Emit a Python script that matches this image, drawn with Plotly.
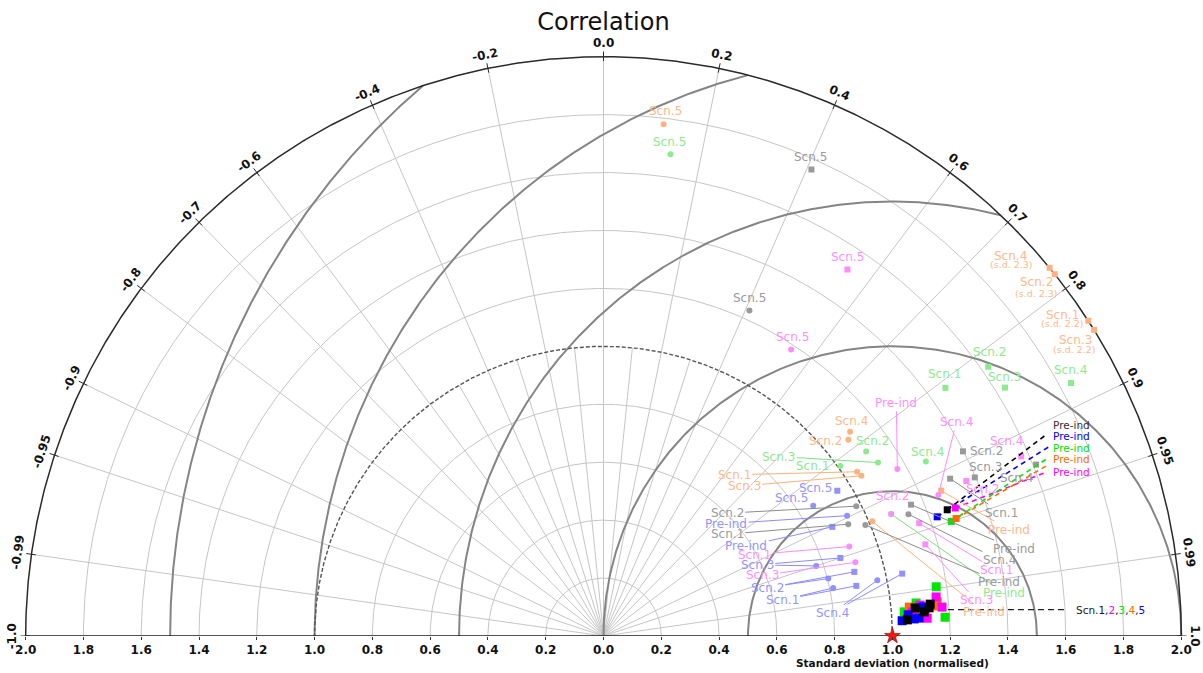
import numpy as np
import plotly.graph_objects as go

# ---------------------------------------------------------------------------
# Data: normalised standard deviation and correlation with the reference
# Order of every list follows SCEN; None = no value for that case.
# ---------------------------------------------------------------------------
SCEN = ["Pre-ind", "Scn.1", "Scn.2", "Scn.3", "Scn.4", "Scn.5"]

orange_circle_sd = [1.011, 1.045, 1.085, 1.050, 1.107, 1.779]
orange_circle_cor = [0.920, 0.840, 0.781, 0.850, 0.771, 0.117]
orange_square_sd = [1.272, 2.2, 2.3, 2.2, 2.3, None]
orange_square_cor = [0.919, 0.839, 0.781, 0.849, 0.772, None]

green_circle_sd = [1.081, 1.008, 1.110, 1.123, 1.268, 1.679]
green_circle_cor = [0.921, 0.813, 0.819, 0.846, 0.880, 0.138]
green_square_sd = [None, 1.461, 1.624, 1.633, 1.839, None]
green_square_cor = [None, 0.810, 0.820, 0.851, 0.880, None]

grey_circle_sd = [0.984, 0.931, 0.983, None, 1.136, 1.232]
grey_circle_cor = [0.921, 0.910, 0.890, None, 0.929, 0.410]
grey_square_sd = [1.157, 1.317, 1.398, 1.397, 1.610, 1.764]
grey_square_cor = [0.920, 0.911, 0.890, 0.920, 0.930, 0.408]

pink_circle_sd = [1.169, 0.905, 1.081, 0.908, 1.257, 1.183]
pink_circle_cor = [0.870, 0.940, 0.921, 0.960, 0.922, 0.549]
pink_square_sd = [None, 1.160, 1.365, 1.158, 1.573, 1.521]
pink_square_cor = [None, 0.942, 0.920, 0.962, 0.919, 0.555]

blue_circle_sd = [0.940, 0.812, 0.803, 0.775, 0.967, 0.854]
blue_circle_cor = [0.897, 0.979, 0.969, 0.950, 0.980, 0.850]
blue_square_sd = [0.877, 0.892, 0.896, 0.863, 1.056, 0.952]
blue_square_cor = [0.903, 0.981, 0.969, 0.950, 0.979, 0.850]

# ensemble runs: one colour per scenario, five members each
ENS_NAMES = ["Scn.1", "Scn.2", "Scn.3", "Scn.4", "Scn.5"]
ENS_COLORS = ["#000000", "#FF00FF", "#00E600", "#FF6A00", "#0000FF"]
scn1_sd = [1.136, 1.131, 1.053, 1.113, 1.083]
scn1_cor = [0.9953, 0.9963, 0.9986, 0.9972, 0.9960]
scn2_sd = [1.159, 1.176, 1.122, 1.072, 1.101]
scn2_cor = [0.9932, 0.9964, 0.9985, 0.9970, 0.9953]
scn3_sd = [1.164, 1.184, 1.088, 1.044, 1.103]
scn3_cor = [0.9893, 0.9985, 0.9945, 0.9968, 0.9967]
scn4_sd = [1.161, 1.063, 1.088, 1.146, 1.117]
scn4_cor = [0.9948, 0.9956, 0.9982, 0.9959, 0.9968]
scn5_sd = [1.077, 1.035, 1.111, 1.057, 1.094]
scn5_cor = [0.9985, 0.9987, 0.9959, 0.9976, 0.9984]

# pre-industrial control of each ensemble (same colour order as ENS_NAMES)
pre_sd = [1.267, 1.295, 1.267, 1.286, 1.226]
pre_cor = [0.939, 0.940, 0.950, 0.949, 0.942]

# axis ticks
SD_TICKS = [round(v, 1) for v in np.arange(-2.0, 2.01, 0.2)]
COR_MAJOR = [0.0, 0.2, 0.4, 0.6, 0.7, 0.8, 0.9, 0.95, 0.99]
COR_MINOR = [0.1, 0.3, 0.5]
COR_LABELS = [0.0, 0.2, 0.4, 0.6, 0.7, 0.8, 0.9, 0.95, 0.99, 1.0]
SD_ARCS = [0.2, 0.4, 0.6, 0.8, 1.2, 1.4, 1.6, 1.8]
RMS_ARCS = [0.5, 1.0, 1.5, 2.0, 2.5]

# ---------------------------------------------------------------------------
SD_MAX = 2.0
XR = 2.03
PX = 1175 / (2 * XR)          # pixels per unit (plot width / x-range)
FONT = "DejaVu Sans"
LABEL_GAP = 13.3              # rim-to-label distance for correlation labels, px

GROUPS = {
    "orange": dict(mk="#FFB27F", tx="#FFB98C", ln="#FFB27A",
                   circle=(orange_circle_sd, orange_circle_cor),
                   square=(orange_square_sd, orange_square_cor)),
    "green": dict(mk="#8CEB8C", tx="#8EEB8E", ln="#7FE07F",
                  circle=(green_circle_sd, green_circle_cor),
                  square=(green_square_sd, green_square_cor)),
    "grey": dict(mk="#9A9A9A", tx="#9A9A9A", ln="#8C8C8C",
                 circle=(grey_circle_sd, grey_circle_cor),
                 square=(grey_square_sd, grey_square_cor)),
    "pink": dict(mk="#FF8CFF", tx="#FF8FFF", ln="#FF8CFF",
                 circle=(pink_circle_sd, pink_circle_cor),
                 square=(pink_square_sd, pink_square_cor)),
    "blue": dict(mk="#9191FF", tx="#9494FF", ln="#8C8CFF",
                 circle=(blue_circle_sd, blue_circle_cor),
                 square=(blue_square_sd, blue_square_cor)),
}

# label placement: pixel offset of the label centre from its marker,
# and whether a leader line joins them ("ghost" = extra leader only)
LABELS = {
    ("orange", "circle", "Scn.5"): (2, -13, False),
    ("orange", "circle", "Scn.4"): (1, -11, False),
    ("orange", "circle", "Scn.2"): (-23, 1, False),
    ("orange", "circle", "Scn.1"): (-123, 3, True),
    ("orange", "circle", "Scn.3"): (-117, 10, True),
    ("orange", "circle", "Pre-ind"): (112, 91, True),
    ("orange", "square", "Pre-ind"): (68, 39, True),
    ("orange", "square", "Scn.4"): (-39, -12, False),
    ("orange", "square", "Scn.2"): (-18, 8, False),
    ("orange", "square", "Scn.1"): (-26, -6, False),
    ("orange", "square", "Scn.3"): (-19, 10, False),
    ("green", "circle", "Scn.5"): (-1, -12, False),
    ("green", "circle", "Scn.2"): (6, -11, False),
    ("green", "circle", "Scn.3"): (-99, -6, True),
    ("green", "circle", "Scn.1"): (-28, 0, False),
    ("green", "circle", "Scn.4"): (2, -10, False),
    ("green", "circle", "Pre-ind"): (113, 79, True),
    ("green", "square", "Scn.2"): (1, -15, False),
    ("green", "square", "Scn.1"): (-1, -14, False),
    ("green", "square", "Scn.3"): (-1, -11, False),
    ("green", "square", "Scn.4"): (-1, -13, False),
    ("grey", "circle", "Scn.5"): (0, -13, False),
    ("grey", "square", "Scn.5"): (-1, -13, False),
    ("grey", "square", "Scn.2"): (24, 0, False),
    ("grey", "square", "Scn.3"): (11, -10, False),
    ("grey", "square", "Scn.1"): (51, 34, True),
    ("grey", "square", "Scn.4"): (-20, 13, False),
    ("grey", "circle", "Scn.4"): (91, 46, True),
    ("grey", "circle", "Scn.2"): (-129, 7, True),
    ("grey", "circle", "Scn.1"): (-121, 10, True),
    ("grey", "square", "Pre-ind"): (103, 44, True),
    ("grey", "circle", "Pre-ind"): (134, 57, True),
    ("pink", "square", "Scn.5"): (0, -13, False),
    ("pink", "circle", "Scn.5"): (1, -13, False),
    ("pink", "circle", "Pre-ind"): (-1, -66, True),
    ("pink", "circle", "Scn.4"): (18, -73, True),
    ("pink", "square", "Scn.4"): (-15, -15, False),
    ("pink", "square", "Scn.2"): (16, 8, False),
    ("pink", "circle", "Scn.2"): (1, -18, False),
    ("pink", "square", "Scn.1"): (77, 47, True),
    ("pink", "square", "Scn.3"): (51, 56, True),
    ("pink", "circle", "Scn.1"): (-95, 8, True),
    ("pink", "circle", "Scn.3"): (-93, 13, True),
    ("blue", "square", "Scn.5"): (-22, -3, False),
    ("blue", "circle", "Scn.5"): (-22, -8, False),
    ("blue", "circle", "Pre-ind"): (-121, 8, True),
    ("blue", "square", "Pre-ind"): (-86, 19, True),
    ("blue", "circle", "Scn.3"): (-59, -1, True),
    ("blue", "square", "Scn.3"): (-83, 7, "ghost"),
    ("blue", "circle", "Scn.2"): (-61, 9, True),
    ("blue", "square", "Scn.2"): (-87, 16, "ghost"),
    ("blue", "circle", "Scn.1"): (-51, 12, True),
    ("blue", "square", "Scn.1"): (-74, 14, "ghost"),
    ("blue", "circle", "Scn.4"): (-45, 33, True),
    ("blue", "square", "Scn.4"): (-70, 39, "ghost"),
}
# notes for values beyond the axis limit (offset of the note centre)
SD_NOTES = {"Scn.4": (-38, -3), "Scn.2": (-18, 19), "Scn.1": (-26, 3), "Scn.3": (-20, 20)}

# pre-industrial legend: end of the dashed leader and left edge of the label
PRE_LEADER = [(99, -75), (89, -35), (98, -64), (91, -53), (112, -70)]
PRE_LABEL = [(104, -85), (96, -36), (100, -73), (95, -60), (114, -81)]
PRE_TEXT_COLORS = ["#3A2A2A", "#FF00FF", "#00DD00", "#FF6A00", "#0000FF"]


def to_xy(sd, cor):
    """Polar (std, correlation) -> cartesian; values beyond the rim sit on it."""
    s = np.minimum(np.asarray(sd, float), SD_MAX)
    c = np.asarray(cor, float)
    return s * c, s * np.sqrt(1.0 - c ** 2)


fig = go.Figure()


def add_line(x, y, color, width, dash="solid"):
    fig.add_trace(go.Scatter(x=x, y=y, mode="lines", hoverinfo="skip",
                             line=dict(color=color, width=width, dash=dash)))


theta = np.linspace(0, np.pi, 721)

# standard-deviation arcs
xs, ys = [], []
for r in SD_ARCS:
    xs += list(r * np.cos(theta)) + [None]
    ys += list(r * np.sin(theta)) + [None]
add_line(xs, ys, "#C6C6C6", 1)

# correlation rays
xs, ys = [], []
for c in COR_MAJOR:
    for cc in {c, -c}:
        xs += [0, SD_MAX * cc, None]
        ys += [0, SD_MAX * np.sqrt(1 - cc ** 2), None]
for c in COR_MINOR:
    for cc in (c, -c):
        xs += [0, 1.0 * cc, None]
        ys += [0, 1.0 * np.sqrt(1 - cc ** 2), None]
add_line(xs, ys, "#C6C6C6", 1)

# centred RMS difference arcs around the reference point (1, 0)
xs, ys = [], []
for R in RMS_ARCS:
    cmax = (SD_MAX ** 2 - 1 - R ** 2) / (2 * R)
    phi0 = 0.0 if cmax >= 1 else np.arccos(cmax)
    phi = np.linspace(phi0, np.pi, 400)
    xs += list(1 + R * np.cos(phi)) + [None]
    ys += list(R * np.sin(phi)) + [None]
add_line(xs, ys, "#858585", 2)

# reference standard deviation
add_line(np.cos(theta), np.sin(theta), "#555555", 1.4, dash="4px,2px")
# outer rim and base line
add_line(SD_MAX * np.cos(theta), SD_MAX * np.sin(theta), "#2A2A2A", 1.5)
add_line([-SD_MAX, SD_MAX], [0, 0], "#1A1A1A", 1.6)

# correlation tick marks
xs, ys = [], []
for c in COR_LABELS:
    for cc in {c, -c}:
        s = np.sqrt(1 - cc ** 2)
        xs += [1.985 * cc, 2.018 * cc, None]
        ys += [1.985 * s, 2.018 * s, None]
add_line(xs, ys, "#2A2A2A", 1)

annotations = []

# correlation labels along the rim (anchored on the rim, pushed outwards)
for c in COR_LABELS:
    for cc in sorted({c, -c}):
        ang = np.arccos(cc)
        if cc == 0:
            txt = "0.0"
        elif c in (0.95, 0.99):
            txt = f"{cc:.2f}"
        else:
            txt = f"{cc:.1f}"
        annotations.append(dict(
            x=SD_MAX * np.cos(ang), y=SD_MAX * np.sin(ang),
            xshift=LABEL_GAP * np.cos(ang), yshift=LABEL_GAP * np.sin(ang),
            text=txt, showarrow=False, textangle=90 - np.degrees(ang),
            xanchor="center", yanchor="middle",
            font=dict(family=FONT, size=12, color="#111111", weight="bold")))

# light-coloured models
for g, st in GROUPS.items():
    for shape in ("circle", "square"):
        sd, cor = st[shape]
        keep = [i for i, v in enumerate(sd) if v is not None]
        x, y = to_xy([sd[i] for i in keep], [cor[i] for i in keep])
        fig.add_trace(go.Scatter(
            x=x, y=y, mode="markers", cliponaxis=False, hoverinfo="skip",
            marker=dict(symbol=shape, size=6, color=st["mk"], line=dict(width=0))))
        for k, i in enumerate(keep):
            key = (g, shape, SCEN[i])
            if key not in LABELS:
                continue
            dx, dy, lead = LABELS[key]
            font = dict(family=FONT, size=12, color=st["tx"])
            if lead:
                if lead == "ghost":
                    font = dict(font, color="rgba(0,0,0,0)")
                annotations.append(dict(
                    x=x[k], y=y[k], text=SCEN[i], showarrow=True, arrowhead=0,
                    arrowwidth=1, arrowcolor=st["ln"], standoff=2,
                    ax=dx, ay=dy, axref="pixel", ayref="pixel", font=font))
            else:
                annotations.append(dict(
                    x=x[k], y=y[k], text=SCEN[i], showarrow=False,
                    xshift=dx, yshift=-dy, xanchor="center", yanchor="middle", font=font))
            if shape == "square" and sd[i] > SD_MAX and SCEN[i] in SD_NOTES:
                nx, ny = SD_NOTES[SCEN[i]]
                annotations.append(dict(
                    x=x[k], y=y[k], text=f"(s.d. {sd[i]})", showarrow=False,
                    xshift=nx, yshift=-ny, xanchor="center", yanchor="middle",
                    font=dict(family=FONT, size=9.5, color=st["tx"])))

# pre-industrial ensemble controls with dashed leaders
px_, py_ = to_xy(pre_sd, pre_cor)
for k in range(len(pre_sd)):
    ex, ey = PRE_LEADER[k]
    add_line([px_[k], px_[k] + ex / PX], [py_[k], py_[k] - ey / PX],
             ENS_COLORS[k], 1.6, dash="5px,4px")
for k in range(len(pre_sd)):
    lx, ly = PRE_LABEL[k]
    annotations.append(dict(
        x=px_[k], y=py_[k], text="Pre-ind", showarrow=False,
        xshift=lx, yshift=-ly, xanchor="left", yanchor="middle",
        font=dict(family=FONT, size=10.5, color=PRE_TEXT_COLORS[k])))
fig.add_trace(go.Scatter(
    x=px_, y=py_, mode="markers", cliponaxis=False, hoverinfo="skip",
    marker=dict(symbol="square", size=7, color=ENS_COLORS, line=dict(width=0))))

# ensemble members
ens = [(scn1_sd, scn1_cor), (scn2_sd, scn2_cor), (scn3_sd, scn3_cor),
       (scn4_sd, scn4_cor), (scn5_sd, scn5_cor)]
for k in (2, 3, 1, 4, 0):
    x, y = to_xy(*ens[k])
    fig.add_trace(go.Scatter(
        x=x, y=y, mode="markers", cliponaxis=False, hoverinfo="skip",
        marker=dict(symbol="square", size=9, color=ENS_COLORS[k], line=dict(width=0))))

# ensemble legend with a dashed leader
ex_all, ey_all = to_xy(sum([e[0] for e in ens], []), sum([e[1] for e in ens], []))
lead_y = float(np.mean(ey_all))
lead_x0 = float(np.max(ex_all)) + 0.01
add_line([lead_x0, 1.60], [lead_y, lead_y], "#222222", 1.4, dash="6px,4px")
ens_txt = "Scn.1," + ",".join(
    f"<span style='color:{c}'>{n[-1]}</span>" for n, c in zip(ENS_NAMES[1:], ENS_COLORS[1:]))
annotations.append(dict(
    x=1.63, y=lead_y, text=ens_txt, showarrow=False, xanchor="left", yanchor="middle",
    font=dict(family=FONT, size=10.5, color="#1A1A1A")))

# reference point
fig.add_trace(go.Scatter(
    x=[1.0], y=[0.0], mode="markers", cliponaxis=False, hoverinfo="skip",
    marker=dict(symbol="star", size=12, color="#FF1010", line=dict(color="#800000", width=0.6))))

# axis title
annotations.append(dict(
    x=1.0, y=0, text="Standard deviation (normalised)", showarrow=False,
    xanchor="center", yanchor="top", yshift=-19,
    font=dict(family=FONT, size=10.5, color="#111111", weight="bold")))

fig.update_layout(
    width=1203, height=673,
    margin=dict(l=17, r=11, t=48, b=37),
    paper_bgcolor="white", plot_bgcolor="white",
    showlegend=False,
    font=dict(family=FONT, size=12, color="#111111"),
    title=dict(text="Correlation", x=0.5, xanchor="center", xref="paper",
               y=1 - 22 / 673, yanchor="middle", yref="container",
               font=dict(family=FONT, size=24, color="#111111")),
    xaxis=dict(range=[-XR, XR], showgrid=False, zeroline=False, showline=False,
               tickvals=SD_TICKS, ticktext=[f"{abs(v):.1f}" for v in SD_TICKS],
               ticks="outside", ticklen=3, tickcolor="#333333",
               tickfont=dict(family=FONT, size=12, color="#111111", weight="bold"),
               fixedrange=True),
    yaxis=dict(range=[0, XR], visible=False, fixedrange=True),
    annotations=annotations,
)

fig.write_html("out.html")
